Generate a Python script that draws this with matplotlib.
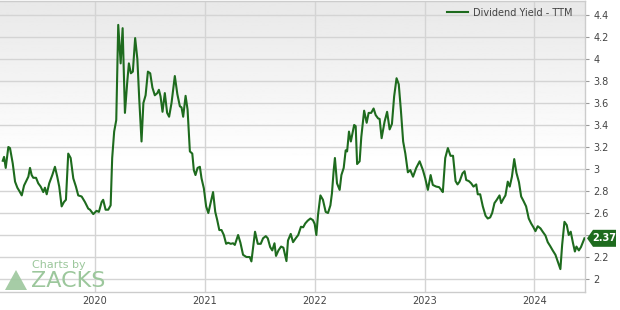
import matplotlib
matplotlib.use("Agg")
import matplotlib.pyplot as plt
import numpy as np
from matplotlib.patches import Polygon
from matplotlib.transforms import IdentityTransform

# dates as fractional years, dividend yield (TTM)
years = [
    2019.161, 2019.173, 2019.188, 2019.212, 2019.227, 2019.252, 2019.273, 2019.294, 2019.312, 2019.334,
    2019.355, 2019.379, 2019.394, 2019.409, 2019.424, 2019.439, 2019.464, 2019.484, 2019.506, 2019.530,
    2019.545, 2019.561, 2019.584, 2019.612, 2019.636, 2019.657, 2019.675, 2019.697, 2019.718, 2019.736,
    2019.757, 2019.779, 2019.803, 2019.827, 2019.848, 2019.879, 2019.909, 2019.939, 2019.955, 2019.985,
    2020.015, 2020.036, 2020.061, 2020.075, 2020.097, 2020.121, 2020.143, 2020.157, 2020.175, 2020.194,
    2020.212, 2020.234, 2020.252, 2020.273, 2020.294, 2020.309, 2020.327, 2020.345, 2020.366, 2020.386,
    2020.403, 2020.424, 2020.441, 2020.461, 2020.482, 2020.503, 2020.523, 2020.545, 2020.568, 2020.582,
    2020.597, 2020.615, 2020.636, 2020.657, 2020.675, 2020.697, 2020.727, 2020.750, 2020.773, 2020.788,
    2020.803, 2020.825, 2020.843, 2020.864, 2020.886, 2020.900, 2020.915, 2020.934, 2020.955, 2020.970,
    2020.991, 2021.012, 2021.032, 2021.052, 2021.075, 2021.095, 2021.112, 2021.132, 2021.152, 2021.173,
    2021.194, 2021.212, 2021.236, 2021.257, 2021.273, 2021.303, 2021.324, 2021.348, 2021.379, 2021.409,
    2021.424, 2021.457, 2021.482, 2021.509, 2021.530, 2021.555, 2021.573, 2021.595, 2021.614, 2021.634,
    2021.648, 2021.670, 2021.694, 2021.715, 2021.743, 2021.757, 2021.782, 2021.803, 2021.827, 2021.850,
    2021.875, 2021.895, 2021.914, 2021.936, 2021.961, 2021.984, 2022.000, 2022.015, 2022.030, 2022.052,
    2022.075, 2022.100, 2022.121, 2022.143, 2022.157, 2022.173, 2022.184, 2022.203, 2022.227, 2022.243,
    2022.264, 2022.282, 2022.295, 2022.312, 2022.329, 2022.343, 2022.359, 2022.373, 2022.386, 2022.409,
    2022.424, 2022.450, 2022.473, 2022.491, 2022.514, 2022.536, 2022.555, 2022.577, 2022.591, 2022.609,
    2022.636, 2022.659, 2022.682, 2022.703, 2022.723, 2022.745, 2022.765, 2022.784, 2022.805, 2022.825,
    2022.848, 2022.870, 2022.895, 2022.924, 2022.955, 2022.985, 2023.006, 2023.030, 2023.055, 2023.075,
    2023.106, 2023.132, 2023.152, 2023.166, 2023.188, 2023.212, 2023.236, 2023.259, 2023.282, 2023.300,
    2023.318, 2023.345, 2023.364, 2023.379, 2023.403, 2023.424, 2023.445, 2023.470, 2023.484, 2023.506,
    2023.530, 2023.555, 2023.575, 2023.597, 2023.615, 2023.636, 2023.657, 2023.682, 2023.697, 2023.718,
    2023.736, 2023.757, 2023.775, 2023.795, 2023.816, 2023.836, 2023.859, 2023.879, 2023.900, 2023.924,
    2023.948, 2023.970, 2023.991, 2024.009, 2024.030, 2024.055, 2024.075, 2024.100, 2024.121, 2024.143,
    2024.166, 2024.191, 2024.212, 2024.236, 2024.252, 2024.273, 2024.294, 2024.312, 2024.330, 2024.350,
    2024.368, 2024.382, 2024.404, 2024.423, 2024.455,
]
yield_ttm = [
    3.075, 3.11, 3.01, 3.20, 3.19, 3.05, 2.885, 2.83, 2.80, 2.76,
    2.85, 2.90, 2.93, 3.01, 2.945, 2.92, 2.92, 2.87, 2.84, 2.79,
    2.83, 2.77, 2.87, 2.945, 3.02, 2.93, 2.84, 2.66, 2.70, 2.72,
    3.14, 3.10, 2.915, 2.84, 2.76, 2.75, 2.70, 2.64, 2.63, 2.59,
    2.62, 2.61, 2.70, 2.72, 2.63, 2.63, 2.67, 3.10, 3.34, 3.445,
    4.31, 3.96, 4.28, 3.51, 3.79, 3.96, 3.87, 3.885, 4.19, 4.00,
    3.64, 3.25, 3.60, 3.67, 3.885, 3.87, 3.74, 3.67, 3.69, 3.72,
    3.66, 3.52, 3.69, 3.51, 3.475, 3.60, 3.845, 3.68, 3.57, 3.56,
    3.475, 3.665, 3.54, 3.16, 3.14, 2.99, 2.945, 3.01, 3.02, 2.915,
    2.825, 2.66, 2.60, 2.69, 2.79, 2.61, 2.54, 2.445, 2.445, 2.40,
    2.32, 2.33, 2.32, 2.325, 2.31, 2.40, 2.33, 2.22, 2.20, 2.20,
    2.16, 2.43, 2.32, 2.32, 2.37, 2.39, 2.37, 2.29, 2.26, 2.325,
    2.21, 2.26, 2.295, 2.285, 2.163, 2.35, 2.41, 2.335, 2.37, 2.40,
    2.475, 2.47, 2.505, 2.53, 2.55, 2.535, 2.50, 2.40, 2.58, 2.76,
    2.72, 2.61, 2.60, 2.67, 2.78, 2.99, 3.10, 2.87, 2.81, 2.945,
    3.01, 3.17, 3.16, 3.34, 3.25, 3.32, 3.40, 3.39, 3.045, 3.07,
    3.29, 3.53, 3.42, 3.51, 3.51, 3.55, 3.49, 3.46, 3.455, 3.28,
    3.43, 3.52, 3.36, 3.41, 3.66, 3.825, 3.77, 3.54, 3.25, 3.14,
    2.97, 2.99, 2.93, 3.01, 3.07, 2.99, 2.915, 2.81, 2.945, 2.855,
    2.84, 2.835, 2.81, 2.79, 3.10, 3.19, 3.12, 3.12, 2.89, 2.86,
    2.885, 2.96, 2.98, 2.90, 2.89, 2.87, 2.84, 2.86, 2.77, 2.77,
    2.66, 2.575, 2.55, 2.56, 2.60, 2.69, 2.72, 2.76, 2.69, 2.73,
    2.76, 2.885, 2.84, 2.93, 3.09, 2.965, 2.88, 2.75, 2.71, 2.66,
    2.55, 2.505, 2.47, 2.435, 2.48, 2.46, 2.43, 2.395, 2.335, 2.30,
    2.26, 2.22, 2.16, 2.09, 2.31, 2.52, 2.49, 2.40, 2.43, 2.33,
    2.25, 2.295, 2.26, 2.29, 2.37,
]
year_ticks = [2020, 2021, 2022, 2023, 2024]
yield_ticks = [2.0, 2.2, 2.4, 2.6, 2.8, 3.0, 3.2, 3.4, 3.6, 3.8, 4.0, 4.2, 4.4]

green = "#1e6b1e"
grid = "#d4d4d4"

fig = plt.figure(figsize=(6.2, 3.1), dpi=100, facecolor="white")
ax = fig.add_axes([0.0, 1 - 292 / 310, 585 / 620, 291 / 310])

# soft grey (top) to white (middle and below) behind the plot
shade = np.linspace(0.91, 1.0, 256)
shade = np.clip((shade - 0.91) / 0.05 * 0.09 + 0.91, 0.91, 1.0)[:, None]
ax.imshow(shade, cmap="gray", vmin=0, vmax=1, aspect="auto",
          extent=[0, 1, 0, 1], transform=ax.transAxes, zorder=0)

ax.plot(years, yield_ttm, color=green, lw=1.5, zorder=3,
        label="Dividend Yield - TTM", solid_joinstyle="round")

ax.set_xlim(2019.136, 2024.46)
ax.set_ylim(1.882, 4.527)

last = yield_ttm[-1]

ax.set_xticks(year_ticks)
ax.set_xticklabels([str(y) for y in year_ticks])
ax.set_yticks(yield_ticks)
# the last-value tag sits on top of the nearest tick label
ax.set_yticklabels(["" if abs(v - last) < 0.1 else f"{v:g}" for v in yield_ticks])
ax.yaxis.tick_right()
ax.tick_params(axis="y", length=3, width=0.8, color="#999999", labelsize=7,
               labelcolor="#444444", pad=3)
ax.tick_params(axis="x", length=0, labelsize=7, labelcolor="#444444", pad=3)
ax.grid(True, color=grid, lw=1, zorder=1)
ax.set_axisbelow(True)

ax.spines["left"].set_visible(False)
for side in ["right", "bottom", "top"]:
    ax.spines[side].set_color("#cccccc")
    ax.spines[side].set_linewidth(1)

leg = ax.legend(loc="upper right", bbox_to_anchor=(0.99, 1.0), frameon=False,
                fontsize=7, handlelength=2.2, handletextpad=0.5, borderaxespad=0.3)
for t in leg.get_texts():
    t.set_color("#444444")

# last value tag on the right axis
px, py = ax.transData.transform((ax.get_xlim()[1], last))
tag = [(px + 2, py), (px + 8, py + 8.5), (px + 31, py + 8.5),
       (px + 31, py - 8.5), (px + 8, py - 8.5)]
fig.add_artist(Polygon(tag, closed=True, transform=IdentityTransform(),
                       facecolor=green, edgecolor="none", zorder=5))
fig.text((px + 19.5) / 620, py / 310, f"{last:.2f}", color="white", fontsize=7,
         fontweight="bold", ha="center", va="center", zorder=6)

# Zacks watermark
logo = "#9cc79c"
fig.add_artist(Polygon([(5 / 620, 1 - 290 / 310), (16 / 620, 1 - 270 / 310),
                        (27 / 620, 1 - 290 / 310)], closed=True,
                       transform=fig.transFigure, facecolor=logo, edgecolor="none",
                       alpha=0.9, zorder=4))
fig.text(32 / 620, 1 - 265 / 310, "Charts by", color=logo, fontsize=8,
         ha="left", va="center", zorder=4)
fig.text(31 / 620, 1 - 281 / 310, "ZACKS", color=logo, fontsize=16,
         ha="left", va="center", zorder=4)

fig.savefig("out.png", dpi=100, facecolor="white")
